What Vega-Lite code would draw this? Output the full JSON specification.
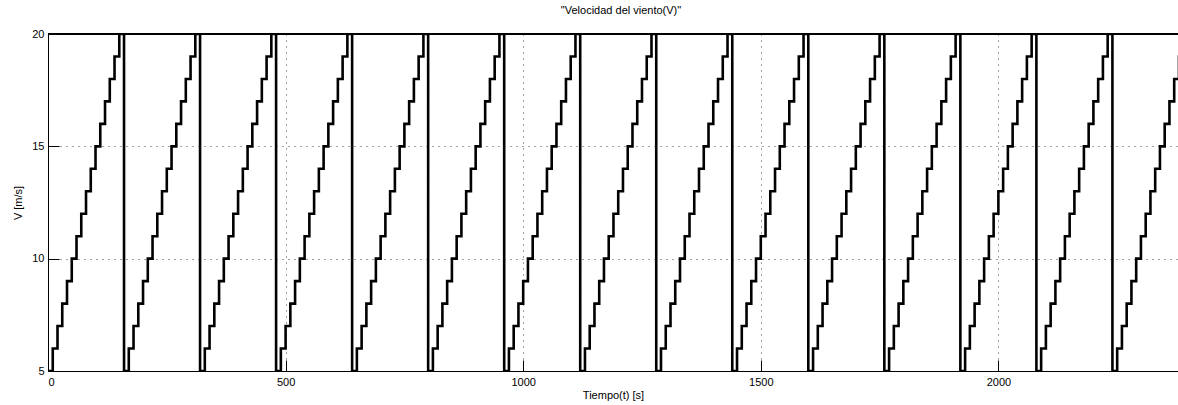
{
  "$schema": "https://vega.github.io/schema/vega-lite/v6.json",
  "autosize": {"type": "none"},
  "width": 1130,
  "height": 337,
  "padding": {"top": 34, "left": 48, "right": 0, "bottom": 34},
  "background": "white",
  "config": {
    "view": {"stroke": null},
    "font": "Liberation Sans",
    "axis": {
      "labelFont": "Liberation Sans",
      "labelFontSize": 11,
      "labelColor": "#000",
      "titleFont": "Liberation Sans",
      "titleFontSize": 11,
      "titleFontWeight": "normal",
      "titleColor": "#000",
      "domainColor": "#000",
      "domainWidth": 1,
      "tickColor": "#000",
      "tickSize": -11,
      "gridColor": "#444",
      "gridDash": [1, 5],
      "gridWidth": 1
    },
    "title": {"font": "Liberation Sans", "fontSize": 11, "fontWeight": "normal", "color": "#000"}
  },
  "title": {"text": "\"Velocidad del viento(V)\"", "offset": 12, "dx": 8},
  "data": {"values": [
    {"t":0,"v":5},{"t":10,"v":6},{"t":20,"v":7},{"t":30,"v":8},{"t":40,"v":9},{"t":50,"v":10},{"t":60,"v":11},{"t":70,"v":12},{"t":80,"v":13},{"t":90,"v":14},{"t":100,"v":15},{"t":110,"v":16},{"t":120,"v":17},{"t":130,"v":18},{"t":140,"v":19},{"t":150,"v":20},
    {"t":160,"v":5},{"t":170,"v":6},{"t":180,"v":7},{"t":190,"v":8},{"t":200,"v":9},{"t":210,"v":10},{"t":220,"v":11},{"t":230,"v":12},{"t":240,"v":13},{"t":250,"v":14},{"t":260,"v":15},{"t":270,"v":16},{"t":280,"v":17},{"t":290,"v":18},{"t":300,"v":19},{"t":310,"v":20},
    {"t":320,"v":5},{"t":330,"v":6},{"t":340,"v":7},{"t":350,"v":8},{"t":360,"v":9},{"t":370,"v":10},{"t":380,"v":11},{"t":390,"v":12},{"t":400,"v":13},{"t":410,"v":14},{"t":420,"v":15},{"t":430,"v":16},{"t":440,"v":17},{"t":450,"v":18},{"t":460,"v":19},{"t":470,"v":20},
    {"t":480,"v":5},{"t":490,"v":6},{"t":500,"v":7},{"t":510,"v":8},{"t":520,"v":9},{"t":530,"v":10},{"t":540,"v":11},{"t":550,"v":12},{"t":560,"v":13},{"t":570,"v":14},{"t":580,"v":15},{"t":590,"v":16},{"t":600,"v":17},{"t":610,"v":18},{"t":620,"v":19},{"t":630,"v":20},
    {"t":640,"v":5},{"t":650,"v":6},{"t":660,"v":7},{"t":670,"v":8},{"t":680,"v":9},{"t":690,"v":10},{"t":700,"v":11},{"t":710,"v":12},{"t":720,"v":13},{"t":730,"v":14},{"t":740,"v":15},{"t":750,"v":16},{"t":760,"v":17},{"t":770,"v":18},{"t":780,"v":19},{"t":790,"v":20},
    {"t":800,"v":5},{"t":810,"v":6},{"t":820,"v":7},{"t":830,"v":8},{"t":840,"v":9},{"t":850,"v":10},{"t":860,"v":11},{"t":870,"v":12},{"t":880,"v":13},{"t":890,"v":14},{"t":900,"v":15},{"t":910,"v":16},{"t":920,"v":17},{"t":930,"v":18},{"t":940,"v":19},{"t":950,"v":20},
    {"t":960,"v":5},{"t":970,"v":6},{"t":980,"v":7},{"t":990,"v":8},{"t":1000,"v":9},{"t":1010,"v":10},{"t":1020,"v":11},{"t":1030,"v":12},{"t":1040,"v":13},{"t":1050,"v":14},{"t":1060,"v":15},{"t":1070,"v":16},{"t":1080,"v":17},{"t":1090,"v":18},{"t":1100,"v":19},{"t":1110,"v":20},
    {"t":1120,"v":5},{"t":1130,"v":6},{"t":1140,"v":7},{"t":1150,"v":8},{"t":1160,"v":9},{"t":1170,"v":10},{"t":1180,"v":11},{"t":1190,"v":12},{"t":1200,"v":13},{"t":1210,"v":14},{"t":1220,"v":15},{"t":1230,"v":16},{"t":1240,"v":17},{"t":1250,"v":18},{"t":1260,"v":19},{"t":1270,"v":20},
    {"t":1280,"v":5},{"t":1290,"v":6},{"t":1300,"v":7},{"t":1310,"v":8},{"t":1320,"v":9},{"t":1330,"v":10},{"t":1340,"v":11},{"t":1350,"v":12},{"t":1360,"v":13},{"t":1370,"v":14},{"t":1380,"v":15},{"t":1390,"v":16},{"t":1400,"v":17},{"t":1410,"v":18},{"t":1420,"v":19},{"t":1430,"v":20},
    {"t":1440,"v":5},{"t":1450,"v":6},{"t":1460,"v":7},{"t":1470,"v":8},{"t":1480,"v":9},{"t":1490,"v":10},{"t":1500,"v":11},{"t":1510,"v":12},{"t":1520,"v":13},{"t":1530,"v":14},{"t":1540,"v":15},{"t":1550,"v":16},{"t":1560,"v":17},{"t":1570,"v":18},{"t":1580,"v":19},{"t":1590,"v":20},
    {"t":1600,"v":5},{"t":1610,"v":6},{"t":1620,"v":7},{"t":1630,"v":8},{"t":1640,"v":9},{"t":1650,"v":10},{"t":1660,"v":11},{"t":1670,"v":12},{"t":1680,"v":13},{"t":1690,"v":14},{"t":1700,"v":15},{"t":1710,"v":16},{"t":1720,"v":17},{"t":1730,"v":18},{"t":1740,"v":19},{"t":1750,"v":20},
    {"t":1760,"v":5},{"t":1770,"v":6},{"t":1780,"v":7},{"t":1790,"v":8},{"t":1800,"v":9},{"t":1810,"v":10},{"t":1820,"v":11},{"t":1830,"v":12},{"t":1840,"v":13},{"t":1850,"v":14},{"t":1860,"v":15},{"t":1870,"v":16},{"t":1880,"v":17},{"t":1890,"v":18},{"t":1900,"v":19},{"t":1910,"v":20},
    {"t":1920,"v":5},{"t":1930,"v":6},{"t":1940,"v":7},{"t":1950,"v":8},{"t":1960,"v":9},{"t":1970,"v":10},{"t":1980,"v":11},{"t":1990,"v":12},{"t":2000,"v":13},{"t":2010,"v":14},{"t":2020,"v":15},{"t":2030,"v":16},{"t":2040,"v":17},{"t":2050,"v":18},{"t":2060,"v":19},{"t":2070,"v":20},
    {"t":2080,"v":5},{"t":2090,"v":6},{"t":2100,"v":7},{"t":2110,"v":8},{"t":2120,"v":9},{"t":2130,"v":10},{"t":2140,"v":11},{"t":2150,"v":12},{"t":2160,"v":13},{"t":2170,"v":14},{"t":2180,"v":15},{"t":2190,"v":16},{"t":2200,"v":17},{"t":2210,"v":18},{"t":2220,"v":19},{"t":2230,"v":20},
    {"t":2240,"v":5},{"t":2250,"v":6},{"t":2260,"v":7},{"t":2270,"v":8},{"t":2280,"v":9},{"t":2290,"v":10},{"t":2300,"v":11},{"t":2310,"v":12},{"t":2320,"v":13},{"t":2330,"v":14},{"t":2340,"v":15},{"t":2350,"v":16},{"t":2360,"v":17},{"t":2370,"v":18},{"t":2380,"v":19},{"t":2390,"v":20}
  ]},
  "layer": [
    {
      "mark": {"type": "line", "interpolate": "step-after", "color": "#000", "strokeWidth": 2.6, "clip": true},
      "encoding": {
        "x": {"field": "t", "type": "quantitative", "scale": {"domain": [0, 2378], "nice": false, "zero": false},
          "axis": {"title": "Tiempo(t) [s]", "values": [0, 500, 1000, 1500, 2000], "format": "d", "labelPadding": 16, "titlePadding": 2, "grid": true}},
        "y": {"field": "v", "type": "quantitative", "scale": {"domain": [5, 20], "nice": false, "zero": false},
          "axis": {"title": "V [m/s]", "values": [5, 10, 15, 20], "format": "d", "labelPadding": 15, "titlePadding": 8, "grid": true}}
      }
    },
    {
      "mark": {"type": "rule", "color": "#000", "strokeWidth": 1},
      "encoding": {"y": {"datum": 20}}
    }
  ]
}
